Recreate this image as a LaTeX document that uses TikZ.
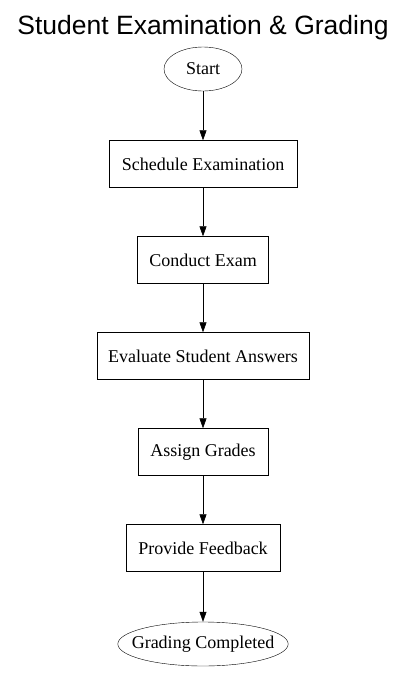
\documentclass[tikz,border=0pt]{standalone}
\usepackage{fontspec}
\setmainfont{Liberation Serif}
\newfontfamily\titlefont{Liberation Sans}
\usetikzlibrary{shapes.geometric, positioning, arrows.meta}

\begin{document}
\begin{tikzpicture}[x=1pt, y=1pt, node distance=96pt, on grid,
    every node/.style={font=\fontsize{18}{21}\selectfont},
    stepbox/.style={draw, rectangle, minimum height=47pt, inner xsep=11pt},
    terminal/.style={draw, ellipse, minimum height=44pt, inner xsep=-11pt, inner ysep=0pt}]
    \useasboundingbox (0,0) rectangle (406,-673);
    \node[font=\titlefont\fontsize{26.5}{30}\selectfont] (title) at (203,-28) {Student Examination \& Grading};
    \node[terminal, minimum width=78pt] (start) at (203,-69) {Start};
    \node[stepbox, minimum width=188pt] (schedule) at (203,-164) {Schedule Examination};
    \node[stepbox, minimum width=131pt] (conduct) [below=of schedule] {Conduct Exam};
    \node[stepbox, minimum width=212pt] (evaluate) [below=of conduct] {Evaluate Student Answers};
    \node[stepbox, minimum width=130pt] (assign) [below=of evaluate] {Assign Grades};
    \node[stepbox, minimum width=154pt] (feedback) [below=of assign] {Provide Feedback};
    \node[terminal, minimum width=170pt] (done) at (203,-644) {Grading Completed};
	\path[-{Triangle[length=10pt, width=7pt]}, semithick]
	(start) edge (schedule)
	(schedule) edge (conduct)
	(conduct) edge (evaluate)
	(evaluate) edge (assign)
	(assign) edge (feedback)
	(feedback) edge (done);
\end{tikzpicture}
\end{document}
